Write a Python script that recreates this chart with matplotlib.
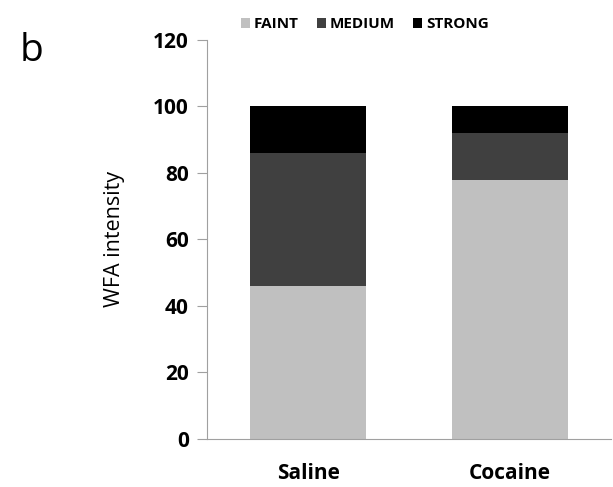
import numpy as np
import matplotlib
matplotlib.use("Agg")
import matplotlib.pyplot as plt

plt.rcParams["font.family"] = ["Open Sans", "DejaVu Sans"]

groups = ["Saline", "Cocaine"]
levels = ["FAINT", "MEDIUM", "STRONG"]
faint = [46, 78]
medium = [40, 14]
strong = [14, 8]
colors = ["#c0c0c0", "#404040", "#000000"]

fig = plt.figure(figsize=(6.13, 4.87), dpi=100)
ax = fig.add_axes([0.3377, 0.0986, 0.6590, 0.8194])

x = np.arange(len(groups))
bottom = np.zeros(len(groups))
for name, vals, c in zip(levels, [faint, medium, strong], colors):
    ax.bar(x, vals, width=0.57, bottom=bottom, color=c, label=name)
    bottom += np.array(vals)

ax.set_xlim(-0.5, 1.5)
ax.set_ylim(0, 120)
ax.set_yticks(np.arange(0, 121, 20))
ax.set_xticks(x)
ax.set_xticklabels(groups, fontsize=15, fontweight="bold")
for lab in ax.get_yticklabels():
    lab.set_fontsize(15)
    lab.set_fontweight("bold")
ax.tick_params(axis="y", length=7, color="#a0a0a0", pad=6)
ax.tick_params(axis="x", length=0, pad=17)
for s in ("top", "right"):
    ax.spines[s].set_visible(False)
for s in ("left", "bottom"):
    ax.spines[s].set_color("#a0a0a0")
ax.set_ylabel("WFA intensity", fontsize=15.5, labelpad=20)

fig.legend(loc="center", bbox_to_anchor=(0.595, 0.95), ncol=3, frameon=False,
           prop={"size": 11, "weight": "bold"}, handlelength=0.6,
           handleheight=0.6, handletextpad=0.25, columnspacing=1.2)
fig.text(0.032, 0.895, "b", fontsize=28, va="center")

fig.savefig("out.png", dpi=100)
